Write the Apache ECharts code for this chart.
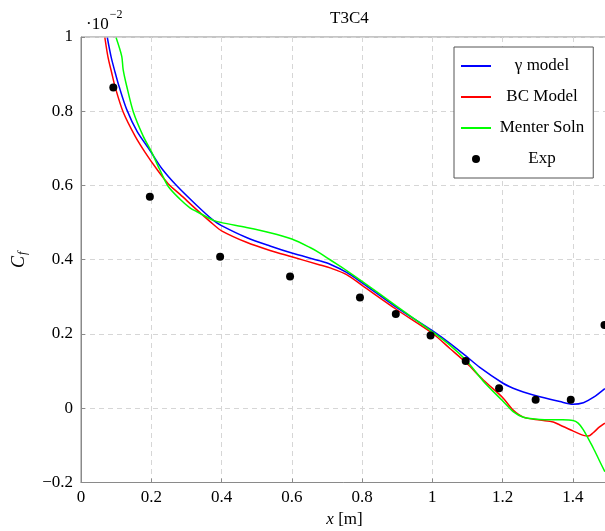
<!DOCTYPE html>
<html>
<head>
<meta charset="utf-8">
<script src="https://cdn.jsdelivr.net/npm/echarts@6/dist/echarts.min.js"></script>
<style>
html,body{margin:0;padding:0;background:#fff;}
#chart{width:605px;height:531px;}
</style>
</head>
<body>
<div id="chart"></div>
<script>
// ---- data (Cf x 10^-2 vs x [m]) ----
var xTicks = [0, 0.2, 0.4, 0.6, 0.8, 1, 1.2, 1.4];
var yTicks = [-0.2, 0, 0.2, 0.4, 0.6, 0.8, 1];

var gammaX = [0.075, 0.086, 0.097, 0.108, 0.13, 0.16, 0.196, 0.23, 0.272, 0.329, 0.377, 0.4, 0.471, 0.538, 0.6, 0.68, 0.709, 0.756, 0.8, 0.898, 1.0, 1.05, 1.098, 1.135, 1.2, 1.23, 1.259, 1.306, 1.363, 1.4, 1.43, 1.458, 1.491];
var gammaY = [0.998, 0.945, 0.905, 0.868, 0.805, 0.745, 0.695, 0.646, 0.600, 0.547, 0.506, 0.492, 0.460, 0.437, 0.418, 0.397, 0.388, 0.366, 0.338, 0.272, 0.209, 0.175, 0.139, 0.110, 0.068, 0.054, 0.044, 0.031, 0.018, 0.011, 0.015, 0.029, 0.053];

var bcX = [0.068, 0.077, 0.087, 0.097, 0.12, 0.154, 0.182, 0.215, 0.248, 0.282, 0.329, 0.377, 0.4, 0.471, 0.538, 0.6, 0.68, 0.709, 0.756, 0.8, 0.898, 1.0, 1.05, 1.098, 1.145, 1.2, 1.23, 1.259, 1.306, 1.344, 1.363, 1.4, 1.43, 1.444, 1.458, 1.475, 1.491];
var bcY = [0.998, 0.945, 0.905, 0.866, 0.798, 0.733, 0.690, 0.645, 0.605, 0.576, 0.535, 0.495, 0.478, 0.447, 0.425, 0.408, 0.386, 0.378, 0.360, 0.331, 0.266, 0.202, 0.161, 0.121, 0.076, 0.029, -0.005, -0.024, -0.032, -0.037, -0.045, -0.061, -0.073, -0.075, -0.066, -0.051, -0.040];

var menterX = [0.1, 0.116, 0.12, 0.13, 0.149, 0.177, 0.201, 0.223, 0.248, 0.282, 0.31, 0.329, 0.377, 0.4, 0.471, 0.538, 0.6, 0.652, 0.68, 0.709, 0.756, 0.8, 0.898, 1.0, 1.05, 1.098, 1.145, 1.2, 1.23, 1.259, 1.306, 1.363, 1.4, 1.415, 1.43, 1.458, 1.475, 1.491];
var menterY = [0.998, 0.948, 0.912, 0.868, 0.798, 0.733, 0.690, 0.645, 0.598, 0.563, 0.540, 0.530, 0.506, 0.500, 0.487, 0.473, 0.456, 0.433, 0.418, 0.400, 0.371, 0.342, 0.275, 0.206, 0.170, 0.127, 0.073, 0.020, -0.009, -0.024, -0.030, -0.031, -0.033, -0.040, -0.058, -0.107, -0.140, -0.171];

var expX = [0.092, 0.196, 0.396, 0.595, 0.794, 0.896, 0.995, 1.095, 1.19, 1.294, 1.394, 1.49];
var expY = [0.864, 0.570, 0.408, 0.355, 0.298, 0.254, 0.196, 0.127, 0.054, 0.023, 0.023, 0.224];

var seriesNames = ['\u03b3 model', 'BC Model', 'Menter Soln', 'Exp'];

function pairs(xs, ys) { return xs.map(function (x, i) { return [x, ys[i]]; }); }

var FONT = 'Liberation Serif';
var chart = echarts.init(document.getElementById('chart'), null, {renderer: 'canvas'});

function fmt(v) {
  var s = String(Math.round(v * 10) / 10);
  return s.replace('-', '\u2212');
}

var lineCommon = {
  type: 'line', showSymbol: false, symbol: 'none',
  smooth: 0.3, clip: true
};
var hiddenSym = {color: 'rgba(0,0,0,0)', borderWidth: 0, opacity: 0};

chart.setOption({
  animation: false,
  backgroundColor: '#fff',
  title: {
    text: 'T3C4', left: 325, top: 5,
    textStyle: {fontFamily: FONT, fontSize: 17, fontWeight: 'normal', color: '#000'}
  },
  grid: {left: 81, right: -3, top: 37, bottom: 48.5, show: true, borderColor: '#8a8a8a', borderWidth: 1,
    containLabel: false, outerBoundsMode: 'none'},
  xAxis: {
    type: 'value', min: 0, max: 1.5, interval: 0.2,
    name: '{i|x} [m]', nameLocation: 'middle', nameGap: 28,
    nameTextStyle: {fontFamily: FONT, fontSize: 17, color: '#000', rich: {i: {fontFamily: FONT, fontSize: 17, fontStyle: 'italic', color: '#000'}}},
    axisLine: {show: true, onZero: false, lineStyle: {color: '#8a8a8a', width: 1}},
    axisTick: {show: true, inside: true, length: 4, lineStyle: {color: '#8a8a8a'}, customValues: xTicks},
    axisLabel: {fontFamily: FONT, fontSize: 17, color: '#000', margin: 7, formatter: fmt, customValues: xTicks},
    splitLine: {show: true, lineStyle: {color: '#d6d6d6', type: [5, 4], width: 1}}
  },
  yAxis: {
    type: 'value', min: -0.2, max: 1, interval: 0.2,
    name: '{c|C}{f|f}', nameLocation: 'middle', nameGap: 52, nameRotate: 90,
    nameTextStyle: {fontFamily: FONT, fontSize: 17, color: '#000',
      rich: {c: {fontFamily: FONT, fontSize: 18, fontStyle: 'italic', color: '#000'},
             f: {fontFamily: FONT, fontSize: 12, fontStyle: 'italic', color: '#000', padding: [8, 0, 0, 1]}}},
    axisLine: {show: true, onZero: false, lineStyle: {color: '#8a8a8a', width: 1}},
    axisTick: {show: true, inside: true, length: 4, lineStyle: {color: '#8a8a8a'}},
    axisLabel: {fontFamily: FONT, fontSize: 17, color: '#000', margin: 8, formatter: fmt, customValues: yTicks},
    splitLine: {show: true, lineStyle: {color: '#d6d6d6', type: [5, 4], width: 1}}
  },
  legend: {
    orient: 'vertical', left: 454, top: 47,
    padding: [10.5, 9, 10.5, 6],
    itemWidth: 30, itemHeight: 8, itemGap: 14,
    backgroundColor: '#fff', borderColor: '#555', borderWidth: 1,
    data: [
      {name: seriesNames[0], itemStyle: hiddenSym},
      {name: seriesNames[1], itemStyle: hiddenSym},
      {name: seriesNames[2], itemStyle: hiddenSym},
      {name: seriesNames[3], icon: 'circle', itemStyle: {color: '#000', opacity: 1}}
    ],
    formatter: function (n) { return '{t|' + n + '}'; },
    textStyle: {fontFamily: FONT, fontSize: 17, color: '#000',
      rich: {t: {width: 92, align: 'center', fontFamily: FONT, fontSize: 17, color: '#000'}}}
  },
  graphic: [{
    type: 'text', left: 86, top: 9, z: 10,
    style: {
      text: '{a|\u00b710}{b|\u22122}',
      rich: {
        a: {fontFamily: FONT, fontSize: 17, fill: '#000', verticalAlign: 'bottom', lineHeight: 24},
        b: {fontFamily: FONT, fontSize: 12, fill: '#000', verticalAlign: 'top', lineHeight: 24, padding: [0, 0, 8, 1]}
      }
    }
  }],
  series: [
    Object.assign({}, lineCommon, {name: seriesNames[0], data: pairs(gammaX, gammaY), z: 4,
      lineStyle: {color: '#0000ff', width: 1.5}, itemStyle: {color: '#0000ff'}}),
    Object.assign({}, lineCommon, {name: seriesNames[1], data: pairs(bcX, bcY), z: 3,
      lineStyle: {color: '#ff0000', width: 1.5}, itemStyle: {color: '#ff0000'}}),
    Object.assign({}, lineCommon, {name: seriesNames[2], data: pairs(menterX, menterY), z: 5,
      lineStyle: {color: '#00ff00', width: 1.5}, itemStyle: {color: '#00ff00'}}),
    {type: 'scatter', name: seriesNames[3], data: pairs(expX, expY), symbol: 'circle', symbolSize: 8,
      itemStyle: {color: '#000', opacity: 1}, z: 6, clip: false}
  ]
});
</script>
</body>
</html>
